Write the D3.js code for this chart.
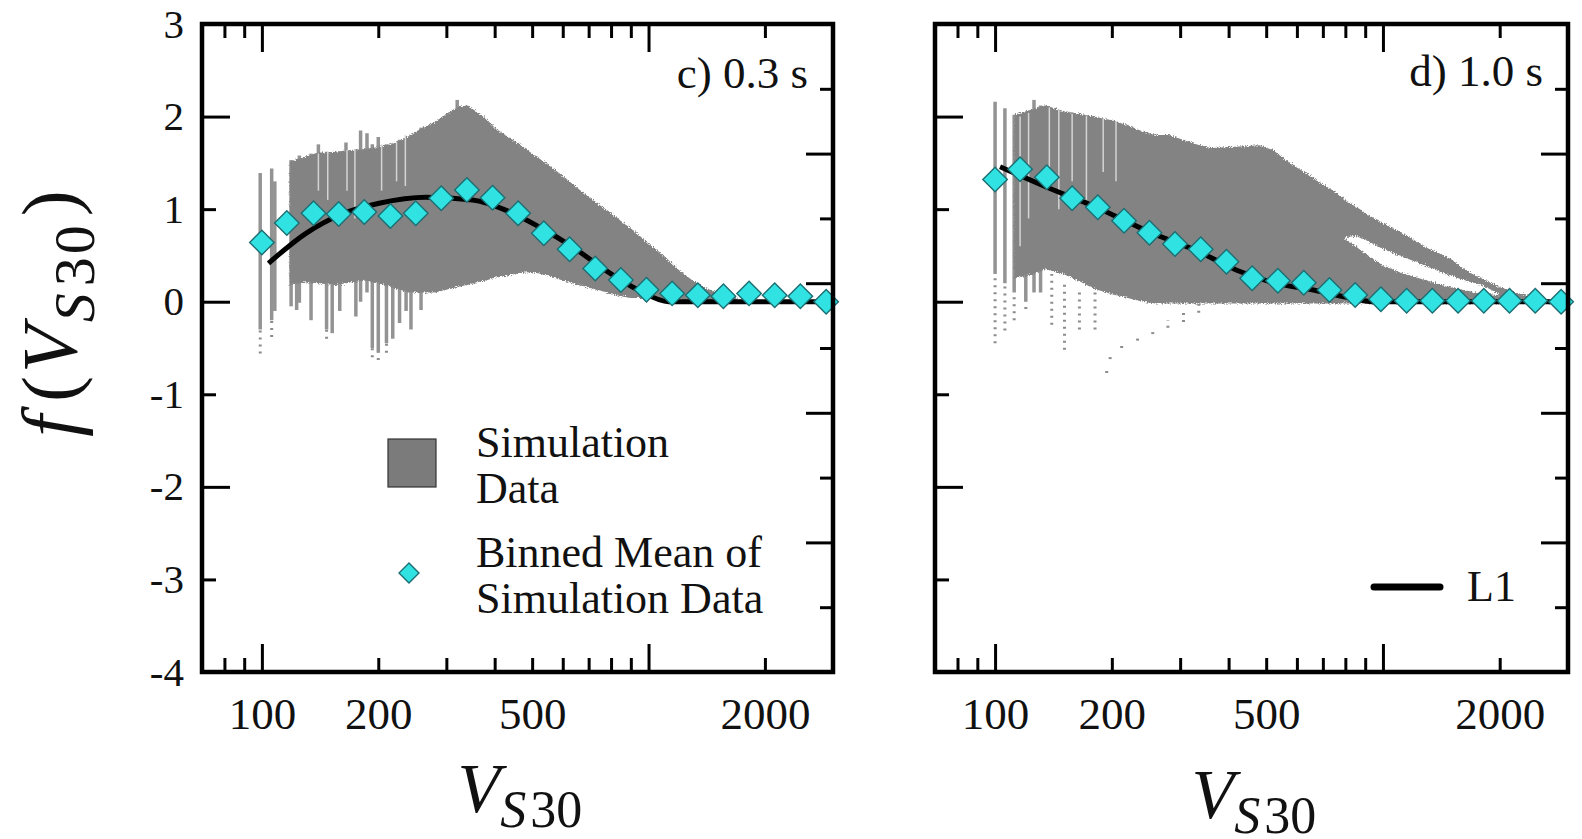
<!DOCTYPE html>
<html>
<head>
<meta charset="utf-8">
<script src="https://cdn.jsdelivr.net/npm/d3@7"></script>
<style>
  body { margin: 0; background: #fff; }
  svg { display: block; }
  text { font-family: "Liberation Serif", "Times New Roman", serif; fill: #111; }
</style>
</head>
<body>
<svg width="1582" height="839">
  <defs>
    <filter id="rough" x="-5%" y="-5%" width="110%" height="110%">
      <feTurbulence type="fractalNoise" baseFrequency="0.9" numOctaves="2" seed="3" result="n"/>
      <feDisplacementMap in="SourceGraphic" in2="n" scale="5" xChannelSelector="R" yChannelSelector="G"/>
    </filter>
  </defs>
</svg>
<script>
// ---- data ----
const vsBins = [100, 116, 136, 158, 184, 215, 250, 291, 339, 395, 460, 536, 625, 728, 848, 988, 1151, 1341, 1562, 1820, 2120, 2470, 2880];
const meanC = [0.64, 0.85, 0.955, 0.947, 0.97, 0.926, 0.955, 1.117, 1.207, 1.124, 0.955, 0.739, 0.566, 0.36, 0.234, 0.13, 0.09, 0.07, 0.06, 0.09, 0.07, 0.06, 0.0];
const meanD = [1.32, 1.43, 1.344, 1.117, 1.02, 0.875, 0.745, 0.623, 0.566, 0.432, 0.253, 0.227, 0.205, 0.126, 0.072, 0.026, 0.01, 0.01, 0.01, 0.01, 0.01, 0.01, 0.0];

// L1 model curve
const fitCVs = [104, 130, 159, 201, 266, 351, 427, 520, 635, 773, 942, 1127, 3000];
const fitCVals = [0.415, 0.739, 0.937, 1.063, 1.128, 1.099, 0.99, 0.81, 0.594, 0.342, 0.126, 0.0, 0.0];
const fitDVs = [103, 135, 181, 249, 335, 420, 527, 662, 831, 952, 3000];
const fitDVals = [1.458, 1.242, 1.026, 0.756, 0.54, 0.34, 0.2, 0.126, 0.037, 0.0, 0.0];

// simulation cloud, dense core (upper / lower envelope)
const coreCVs = [118, 128, 140, 155, 170, 185, 200, 220, 240, 260, 280, 300, 320, 340, 360, 380, 400, 430, 460, 500, 550, 600, 650, 700, 750, 800, 850, 900, 950, 1000, 1050, 1100, 1200, 1300, 1400, 1500, 1600, 1700];
const coreCHi = [1.51, 1.56, 1.61, 1.62, 1.64, 1.65, 1.67, 1.71, 1.79, 1.88, 1.94, 2.03, 2.1, 2.12, 2.05, 1.98, 1.88, 1.79, 1.71, 1.6, 1.48, 1.36, 1.24, 1.13, 1.04, 0.96, 0.87, 0.79, 0.71, 0.63, 0.56, 0.49, 0.34, 0.23, 0.15, 0.1, 0.07, 0.04];
const coreCLo = [0.18, 0.21, 0.2, 0.18, 0.21, 0.23, 0.2, 0.15, 0.1, 0.1, 0.1, 0.13, 0.16, 0.18, 0.21, 0.23, 0.26, 0.28, 0.31, 0.32, 0.28, 0.23, 0.19, 0.15, 0.12, 0.08, 0.06, 0.04, 0.04, 0.03, 0.03, 0.02, 0.02, 0.01, 0.01, 0.01, 0.01, 0.02];

const coreDVs = [112, 125, 135, 150, 165, 180, 200, 220, 240, 260, 280, 300, 330, 360, 400, 440, 480, 520, 560, 600, 650, 700, 750, 800, 850, 900, 950, 1000, 1100, 1200, 1300, 1400, 1500, 1600, 1700, 1800, 2000, 2200, 2400, 2600, 2800];
const coreDHi = [2.02, 2.08, 2.12, 2.06, 2.03, 2.0, 1.96, 1.91, 1.84, 1.8, 1.8, 1.76, 1.7, 1.66, 1.67, 1.68, 1.69, 1.64, 1.54, 1.45, 1.36, 1.27, 1.19, 1.1, 1.03, 0.96, 0.9, 0.85, 0.76, 0.67, 0.58, 0.52, 0.46, 0.37, 0.3, 0.25, 0.16, 0.1, 0.06, 0.03, 0.01];
const coreDLo = [0.25, 0.3, 0.35, 0.3, 0.22, 0.14, 0.08, 0.04, 0.0, -0.02, -0.02, -0.02, -0.02, -0.02, -0.02, -0.02, -0.02, -0.02, -0.02, -0.02, -0.02, -0.02, -0.02, -0.02, -0.02, -0.02, -0.02, -0.02, -0.02, -0.02, -0.02, -0.02, -0.02, -0.02, -0.02, -0.02, -0.02, -0.02, -0.02, -0.02, -0.02];
// empty band splitting the 1.0 s cloud
const gapDVs = [800, 850, 900, 1000, 1100, 1200, 1300, 1450, 1600, 1800, 2000];
const gapDLo = [0.68, 0.6, 0.52, 0.39, 0.32, 0.27, 0.23, 0.17, 0.13, 0.09, 0.07];
const gapDHi = [0.7, 0.71, 0.67, 0.57, 0.5, 0.44, 0.38, 0.3, 0.24, 0.18, 0.08];

// single vertical streaks of simulations [Vs30, low, high]
const streaksC = [[99, -0.3, 1.39], [106, -0.2, 1.44], [108, -0.1, 1.3], [119, -0.05, 1.53], [123, -0.09, 1.5], [125, -0.01, 1.58], [134, -0.2, 1.6], [140, 0.5, 1.7], [147, -0.3, 1.62], [152, -0.34, 1.6], [159, -0.1, 1.62], [165, 0.5, 1.72], [175, -0.16, 1.65], [180, 0.0, 1.85], [187, 0.1, 1.82], [193, -0.5, 1.7], [200, -0.55, 1.78], [210, -0.45, 1.7], [218, -0.4, 1.71], [227, -0.23, 1.75], [236, -0.1, 1.75], [243, -0.3, 1.8], [258, -0.09, 1.88], [320, 0.2, 2.18]];
const dotsC = [[99, -0.56, -0.3], [106, -0.38, -0.2], [147, -0.4, -0.3], [193, -0.6, -0.5], [200, -0.63, -0.55], [210, -0.55, -0.45]];
const streaksD = [[100, 0.3, 2.16], [106, 0.2, 2.09], [112, 0.1, 2.02], [120, 0.0, 2.03], [126, 0.1, 2.18], [131, 0.1, 2.12]];
const dotsD = [[100, -0.45, 0.3], [106, -0.31, 0.2], [112, -0.2, 0.1], [120, -0.08, 0.0], [140, -0.25, 0.3], [151, -0.52, 0.2], [165, -0.3, 0.1], [181, -0.3, 0.13], [194, -0.77, -0.7], [198, -0.62, -0.55], [212, -0.5, -0.44], [233, -0.42, -0.36], [255, -0.35, -0.28], [279, -0.28, -0.2], [306, -0.22, -0.12], [335, -0.12, -0.02]];
// thin empty lines inside the streaky part of the clouds
const slitsC = [[140, 1.2, 1.6], [148, 1.1, 1.62], [166, 1.2, 1.64], [174, 0.9, 1.65], [204, 1.2, 1.7], [223, 1.3, 1.72], [235, 1.25, 1.8]];
const slitsD = [[116, 0.6, 2.0], [122, 0.9, 2.04], [138, 1.2, 2.1], [146, 1.0, 2.07], [158, 1.3, 2.03], [172, 1.1, 2.01], [190, 1.4, 1.98], [205, 1.3, 1.95]];

// ticks
const xMinor = [80, 90, 200, 300, 400, 500, 600, 700, 800, 900, 2000];
const xMajor = [100, 1000];
const xLabels = [100, 200, 500, 2000];
const yTicks = [-4, -3, -2, -1, 0, 1, 2, 3];
const y2Ticks = [1, 2, 3, 4, 5, 6, 7, 8, 9];

// ---- layout ----
const svg = d3.select("svg");
const plotTop = 24, plotBottom = 672;
const grey = "#838383", cyan = "#30e2e2", teal = "#1d6e72";

const panels = [
  { key: "c", x0: 202, x1: 833, label: "c) 0.3 s", labelY: 88, mean: meanC,
    fit: fitCVs.map((v, i) => ({ v, f: fitCVals[i] })),
    core: coreCVs.map((v, i) => ({ v, hi: coreCHi[i], lo: coreCLo[i] })),
    gap: [], streaks: streaksC, dots: dotsC, slits: slitsC, yLabels: true, titleY: 812 },
  { key: "d", x0: 935, x1: 1568, label: "d) 1.0 s", labelY: 86, mean: meanD,
    fit: fitDVs.map((v, i) => ({ v, f: fitDVals[i] })),
    core: coreDVs.map((v, i) => ({ v, hi: coreDHi[i], lo: coreDLo[i] })),
    gap: gapDVs.map((v, i) => ({ v, hi: gapDHi[i], lo: gapDLo[i] })),
    streaks: streaksD, dots: dotsD, slits: slitsD, yLabels: false, titleY: 818 }
];

panels.forEach(p => {
  const x = d3.scaleLog().domain([70, 3000]).range([p.x0, p.x1]);
  const y = d3.scaleLinear().domain([-4, 3]).range([plotBottom, plotTop]);
  const y2 = d3.scaleLinear().domain([0, 10]).range([plotBottom, plotTop]);
  const g = svg.append("g");

  g.append("clipPath").attr("id", "clip-" + p.key)
    .append("rect").attr("x", p.x0).attr("y", plotTop)
    .attr("width", p.x1 - p.x0).attr("height", plotBottom - plotTop);
  const plot = g.append("g").attr("clip-path", `url(#clip-${p.key})`);

  // simulation streaks
  const vLines = (cls, data) => plot.selectAll("line." + cls).data(data).join("line")
    .attr("class", cls)
    .attr("x1", d => x(d[0])).attr("x2", d => x(d[0]))
    .attr("y1", d => y(d[1])).attr("y2", d => y(d[2]));
  vLines("streak", p.streaks).attr("stroke", "#939393").attr("stroke-width", 3.5);
  vLines("dot", p.dots).attr("stroke", "#8c8c8c").attr("stroke-width", 3)
    .attr("stroke-dasharray", "2,5");

  // dense part of the cloud
  const area = d3.area().x(d => x(d.v)).y0(d => y(d.lo)).y1(d => y(d.hi));
  const cloud = plot.append("g").attr("filter", "url(#rough)");
  cloud.append("path").datum(p.core).attr("d", area).attr("fill", grey);
  if (p.gap.length) {
    cloud.append("path").datum(p.gap).attr("d", area).attr("fill", "#fff");
  }
  vLines("slit", p.slits).attr("stroke", "#d4d4d4").attr("stroke-width", 1.5);

  // L1 curve
  const line = d3.line().x(d => x(d.v)).y(d => y(d.f)).curve(d3.curveMonotoneX);
  plot.append("path").datum(p.fit).attr("d", line)
    .attr("fill", "none").attr("stroke", "#000").attr("stroke-width", 5);

  // binned means
  const diamond = d3.symbol(d3.symbolSquare, 300);
  g.selectAll("path.mean").data(vsBins.map((v, i) => ({ v, m: p.mean[i] }))).join("path")
    .attr("class", "mean")
    .attr("d", diamond)
    .attr("transform", d => `translate(${x(d.v)},${y(d.m)}) rotate(45)`)
    .attr("fill", cyan).attr("stroke", teal).attr("stroke-width", 1.4);

  // ticks (inward, on all four sides)
  const tidy = sel => {
    sel.select(".domain").remove();
    sel.selectAll("line").attr("stroke", "#000").attr("stroke-width", 3);
  };
  [["bottom", plotBottom], ["top", plotTop]].forEach(([side, pos]) => {
    const ax = side === "bottom" ? d3.axisBottom : d3.axisTop;
    g.append("g").attr("transform", `translate(0,${pos})`)
      .call(ax(x).tickValues(xMinor).tickSize(-14).tickFormat("")).call(tidy);
    g.append("g").attr("transform", `translate(0,${pos})`)
      .call(ax(x).tickValues(xMajor).tickSize(-28).tickFormat("")).call(tidy);
  });
  g.append("g").attr("transform", `translate(${p.x0},0)`)
    .call(d3.axisLeft(y).tickValues(yTicks.filter(d => d % 2 === 0)).tickSize(-28).tickFormat("")).call(tidy);
  g.append("g").attr("transform", `translate(${p.x0},0)`)
    .call(d3.axisLeft(y).tickValues(yTicks.filter(d => d % 2 !== 0)).tickSize(-14).tickFormat("")).call(tidy);
  g.append("g").attr("transform", `translate(${p.x1},0)`)
    .call(d3.axisRight(y2).tickValues(y2Ticks.filter(d => d % 2 === 0)).tickSize(-27).tickFormat("")).call(tidy);
  g.append("g").attr("transform", `translate(${p.x1},0)`)
    .call(d3.axisRight(y2).tickValues(y2Ticks.filter(d => d % 2 !== 0)).tickSize(-13).tickFormat("")).call(tidy);

  // tick labels
  g.append("g").attr("transform", `translate(0,${plotBottom})`)
    .call(d3.axisBottom(x).tickValues(xLabels).tickSize(0).tickPadding(25).tickFormat(d3.format("d")))
    .call(sel => sel.select(".domain").remove())
    .selectAll("text").attr("font-size", 45).attr("font-family", "Liberation Serif").attr("fill", "#111");
  if (p.yLabels) {
    g.append("g").attr("transform", `translate(${p.x0},0)`)
      .call(d3.axisLeft(y).tickValues(yTicks).tickSize(0).tickPadding(18).tickFormat(d => String(d)))
      .call(sel => sel.select(".domain").remove())
      .selectAll("text").attr("font-size", 41).attr("font-family", "Liberation Serif").attr("fill", "#111");
  }

  // frame
  g.append("rect").attr("x", p.x0).attr("y", plotTop)
    .attr("width", p.x1 - p.x0).attr("height", plotBottom - plotTop)
    .attr("fill", "none").attr("stroke", "#000").attr("stroke-width", 4.5);

  // panel label
  g.append("text").attr("x", p.x1 - 25).attr("y", p.labelY)
    .attr("text-anchor", "end").attr("font-size", 45).text(p.label);

  // x title  V_S30
  const t = g.append("text").attr("x", (p.x0 + p.x1) / 2 - 60).attr("y", p.titleY)
    .attr("font-size", 70);
  t.append("tspan").attr("font-style", "italic").text("V");
  t.append("tspan").attr("font-size", 52).attr("dy", 15).attr("font-style", "italic").text("S");
  t.append("tspan").attr("font-size", 52).attr("dx", 4).text("30");
});

// y title  f(V_S30)
const yt = svg.append("text").attr("transform", "translate(76,312) rotate(-90)")
  .attr("text-anchor", "middle").attr("font-size", 78).attr("letter-spacing", 3);
yt.append("tspan").attr("font-style", "italic").text("f");
yt.append("tspan").attr("dx", 10).text("(");
yt.append("tspan").attr("font-style", "italic").text("V");
yt.append("tspan").attr("font-size", 58).attr("dy", 18).attr("font-style", "italic").text("S");
yt.append("tspan").attr("font-size", 58).attr("dx", 4).text("30");
yt.append("tspan").attr("dy", -18).attr("dx", 6).text(")");

// legend, left panel
const legC = svg.append("g");
legC.append("rect").attr("x", 388).attr("y", 439).attr("width", 48).attr("height", 48)
  .attr("fill", "#7b7b7b").attr("stroke", "#333").attr("stroke-width", 1.2);
legC.append("path").attr("d", d3.symbol(d3.symbolSquare, 200)())
  .attr("transform", "translate(409,573) rotate(45)")
  .attr("fill", cyan).attr("stroke", teal).attr("stroke-width", 1.4);
[["Simulation", 457], ["Data", 503], ["Binned Mean of", 567], ["Simulation Data", 613]].forEach(([s, yy]) => {
  legC.append("text").attr("x", 476).attr("y", yy).attr("font-size", 44).text(s);
});

// legend, right panel
const legD = svg.append("g");
legD.append("line").attr("x1", 1374).attr("x2", 1440).attr("y1", 587).attr("y2", 587)
  .attr("stroke", "#000").attr("stroke-width", 7).attr("stroke-linecap", "round");
legD.append("text").attr("x", 1467).attr("y", 601).attr("font-size", 44).text("L1");
</script>
</body>
</html>
